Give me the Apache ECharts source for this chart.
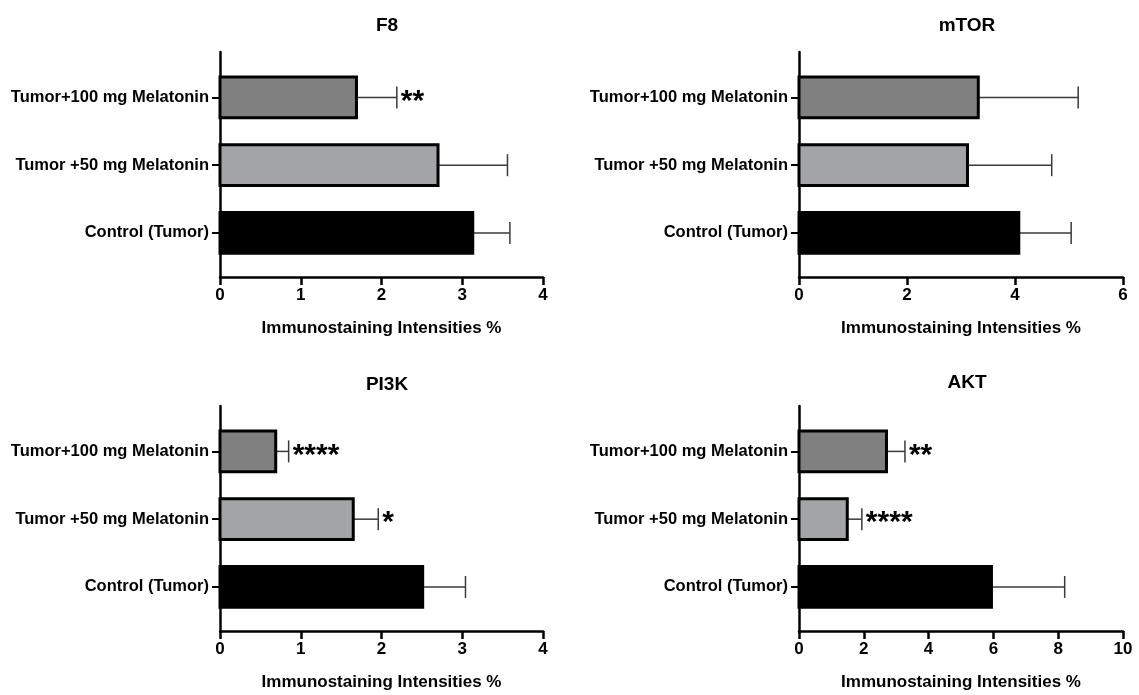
<!DOCTYPE html>
<html>
<head>
<meta charset="utf-8">
<script src="https://cdn.jsdelivr.net/npm/echarts@6/dist/echarts.min.js"></script>
<style>
html,body{margin:0;padding:0;background:#fff;}
#chart{width:1139px;height:695px;}
</style>
</head>
<body>
<div id="chart"></div>
<script>
// ---- data (index 0 = bottom row) ----
const categories = ['Control (Tumor)', 'Tumor +50 mg Melatonin', 'Tumor+100 mg Melatonin'];
const panelTitles = ['F8', 'mTOR', 'PI3K', 'AKT'];
const xMax = [4, 6, 4, 10];
const xInterval = [1, 2, 1, 2];

const f8Mean = [3.13, 2.70, 1.69];
const f8Err  = [0.46, 0.86, 0.50];
const f8Sig  = ['', '', '**'];

const mtorMean = [4.07, 3.12, 3.32];
const mtorErr  = [0.97, 1.56, 1.85];
const mtorSig  = ['', '', ''];

const pi3kMean = [2.51, 1.65, 0.69];
const pi3kErr  = [0.53, 0.31, 0.16];
const pi3kSig  = ['', '*', '****'];

const aktMean = [5.94, 1.49, 2.70];
const aktErr  = [2.26, 0.45, 0.57];
const aktSig  = ['', '****', '**'];

const barColors = ['#000000', '#a3a4a8', '#808080'];
const axisName = 'Immunostaining Intensities %';

// ---- layout / style ----
const FONT = '"Liberation Sans", Arial, Helvetica, sans-serif';
const BAR_H = 0.60;   // bar thickness in category units
const grids = [
  {left: 220, top: 52,  width: 323, height: 225},
  {left: 799, top: 52,  width: 324, height: 225},
  {left: 220, top: 406, width: 323, height: 225},
  {left: 799, top: 406, width: 324, height: 225}
];
const titlePos = [
  {x: 382, y: 11}, {x: 962, y: 11}, {x: 382, y: 370}, {x: 962, y: 368}
];

const panels = [
  [f8Mean, f8Err, f8Sig],
  [mtorMean, mtorErr, mtorSig],
  [pi3kMean, pi3kErr, pi3kSig],
  [aktMean, aktErr, aktSig]
];

function renderItem(sigs, params, api) {
  const y = api.value(0), v = api.value(1), e = api.value(2);
  const i = params.dataIndex;
  const sig = sigs[i];
  const p0 = api.coord([0, y]);
  const p1 = api.coord([v, y]);
  const pe = api.coord([v + e, y]);
  const h = api.size([0, BAR_H])[1];
  const children = [
    {type: 'line', shape: {x1: p1[0], y1: p1[1], x2: pe[0], y2: pe[1]},
     style: {stroke: '#3a3a3a', lineWidth: 1.5}},
    {type: 'line', shape: {x1: pe[0], y1: pe[1] - 11, x2: pe[0], y2: pe[1] + 11},
     style: {stroke: '#3a3a3a', lineWidth: 1.5}},
    {type: 'rect', shape: {x: p0[0], y: p0[1] - h / 2, width: p1[0] - p0[0], height: h},
     style: {fill: barColors[i], stroke: '#000', lineWidth: 3}}
  ];
  if (sig) {
    children.push({type: 'text', x: pe[0] + 4, y: pe[1] + 4,
      style: {text: sig, font: 'bold 30px ' + FONT, fill: '#000',
              textAlign: 'left', textVerticalAlign: 'middle'}});
  }
  return {type: 'group', children: children};
}

const option = {
  animation: false,
  backgroundColor: '#fff',
  title: panelTitles.map((t, k) => ({
    text: t, left: titlePos[k].x, top: titlePos[k].y, textAlign: 'center',
    textStyle: {fontFamily: FONT, fontWeight: 'bold', fontSize: 19, color: '#000'}
  })),
  grid: grids,
  xAxis: grids.map((g, k) => ({
    type: 'value', gridIndex: k, min: 0, max: xMax[k], interval: xInterval[k],
    axisLine: {show: true, onZero: false, lineStyle: {color: '#000', width: 2.5}},
    axisTick: {show: true, length: 8, lineStyle: {color: '#000', width: 2.5}},
    splitLine: {show: false},
    axisLabel: {color: '#000', fontFamily: FONT, fontWeight: 'bold', fontSize: 17, margin: 10},
    name: axisName, nameLocation: 'middle', nameGap: 43,
    nameTextStyle: {color: '#000', fontFamily: FONT, fontWeight: 'bold', fontSize: 17}
  })),
  yAxis: grids.map((g, k) => ({
    type: 'value', gridIndex: k, min: -0.65, max: 2.67,
    axisLine: {show: true, onZero: false, lineStyle: {color: '#000', width: 2.5}},
    axisTick: {show: true, length: 8, customValues: [0, 1, 2], lineStyle: {color: '#000', width: 2}},
    splitLine: {show: false},
    axisLabel: {customValues: [0, 1, 2], formatter: v => categories[Math.round(v)],
      color: '#000', fontFamily: FONT, fontWeight: 'bold', fontSize: 16.5, margin: 11}
  })),
  series: panels.map((p, k) => ({
    type: 'custom', xAxisIndex: k, yAxisIndex: k,
    renderItem: (params, api) => renderItem(p[2], params, api),
    encode: {x: 1, y: 0},
    data: p[0].map((m, i) => [i, m, p[1][i]]),
    clip: false, silent: true
  }))
};

const chart = echarts.init(document.getElementById('chart'), null, {renderer: 'canvas'});
chart.setOption(option);
</script>
</body>
</html>
